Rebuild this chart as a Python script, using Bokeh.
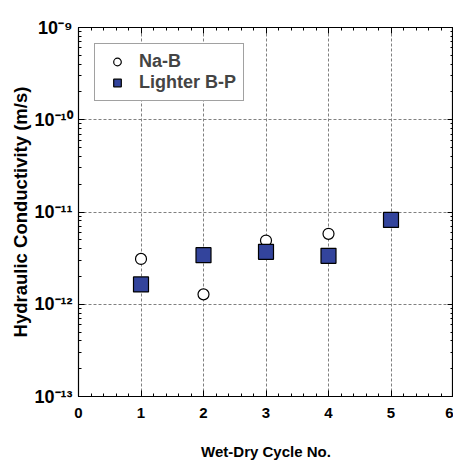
from bokeh.plotting import figure
from bokeh.models import (LogAxis, LinearAxis, Legend, LegendItem, Range1d, FixedTicker,
                          LogTicker, BasicTicker, CustomJSTickFormatter)
from bokeh.embed import file_html
from bokeh.resources import INLINE

cycles_nab = [1, 2, 3, 4]
k_nab = [3.1e-12, 1.28e-12, 4.9e-12, 5.8e-12]
cycles_bp = [1, 2, 3, 4, 5]
k_bp = [1.64e-12, 3.4e-12, 3.7e-12, 3.35e-12, 8.2e-12]
y_ticks = [1e-13, 1e-12, 1e-11, 1e-10, 1e-9]
y_tick_labels = ["10⁻¹³", "10⁻¹²", "10⁻¹¹", "10⁻¹⁰", "10⁻⁹"]
x_ticks = [0, 1, 2, 3, 4, 5, 6]

FONT = "Liberation Sans"

p = figure(width=453, height=462, y_axis_type="log", output_backend="svg",
           toolbar_location=None, x_range=Range1d(0, 6), y_range=Range1d(1e-13, 1e-9),
           min_border_left=78, min_border_right=0, min_border_top=27, min_border_bottom=40)
p.outline_line_color = "black"
p.outline_line_width = 1.2

p.xgrid.ticker = FixedTicker(ticks=x_ticks)
p.ygrid.ticker = FixedTicker(ticks=y_ticks)
for g in (p.xgrid[0], p.ygrid[0]):
    g.grid_line_color = "#808080"
    g.grid_line_dash = "3 2"
    g.grid_line_width = 1

xa = p.xaxis[0]
xa.ticker = BasicTicker(desired_num_ticks=7, num_minor_ticks=5)
ya = p.yaxis[0]
ya.ticker = LogTicker(num_minor_ticks=10)
ya.major_label_overrides = {t: l for t, l in zip(y_ticks, y_tick_labels)}

for ax in (xa, ya):
    ax.major_tick_in = 6
    ax.major_tick_out = 0
    ax.minor_tick_in = 3
    ax.minor_tick_out = 0
    ax.axis_line_color = "black"
    ax.major_label_text_font = FONT
    ax.major_label_text_font_style = "bold"
    ax.major_label_text_color = "black"
    ax.axis_label_text_font = FONT
    ax.axis_label_text_font_style = "bold"
    ax.axis_label_text_color = "black"

xa.major_label_text_font_size = "15px"
ya.major_label_text_font_size = "18px"
xa.axis_label_text_font_size = "15px"
ya.axis_label_text_font_size = "18.5px"
xa.axis_label = "Wet-Dry Cycle No."
xa.axis_label_standoff = 22
xa.major_label_standoff = 11
ya.axis_label = "Hydraulic Conductivity (m/s)"
ya.axis_label_standoff = 0
ya.major_label_standoff = 6

blank = CustomJSTickFormatter(code="return ''")
top = LinearAxis(ticker=BasicTicker(desired_num_ticks=7, num_minor_ticks=5), formatter=blank)
right = LogAxis(ticker=LogTicker(num_minor_ticks=10), formatter=blank)
for ax in (top, right):
    ax.major_tick_in = 6
    ax.major_tick_out = 0
    ax.minor_tick_in = 3
    ax.minor_tick_out = 0
    ax.major_label_standoff = 0
    ax.axis_label_standoff = 0
    ax.major_label_text_font_size = "1px"
    ax.axis_line_color = "black"
p.add_layout(top, "above")
p.add_layout(right, "right")

r1 = p.scatter(cycles_nab, k_nab, marker="circle", size=11, fill_color="white",
               line_color="black", line_width=1.2)
r2 = p.scatter(cycles_bp, k_bp, marker="square", size=15, fill_color="#33449c",
               line_color="black", line_width=1.2)

legend = Legend(items=[LegendItem(label="Na-B", renderers=[r1]),
                       LegendItem(label="Lighter B-P", renderers=[r2])],
                location="top_left")
legend.label_text_font = FONT
legend.label_text_font_style = "bold"
legend.label_text_font_size = "18px"
legend.label_standoff = 7
legend.border_line_color = "#444444"
legend.border_line_width = 1.5
legend.margin = 16
legend.padding = 7
legend.spacing = 0
legend.glyph_width = 30
legend.label_height = 19
legend.glyph_height = 19
legend.background_fill_alpha = 1
p.add_layout(legend)

open("out.html", "w").write(file_html(p, INLINE))
